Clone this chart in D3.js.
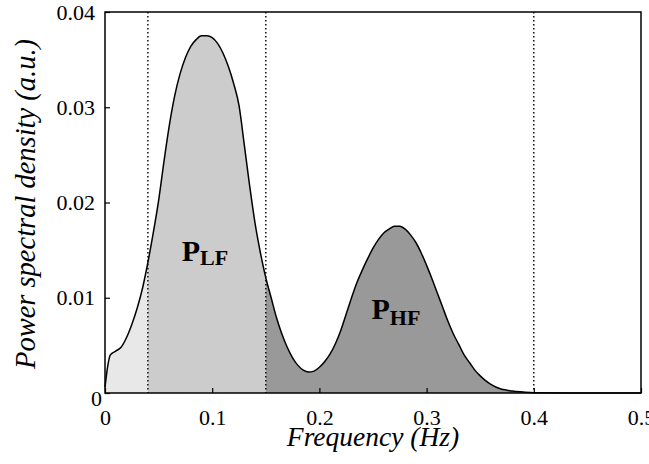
<!DOCTYPE html>
<html>
<head>
<meta charset="utf-8">
<script src="https://cdn.jsdelivr.net/npm/d3@7"></script>
<style>
  html, body { margin: 0; padding: 0; background: #fff; }
  svg { display: block; }
  text { font-family: "Liberation Serif", "Times New Roman", serif; fill: #000; }
</style>
</head>
<body>
<svg id="chart" width="649" height="464"></svg>
<script>
// ---- data ----
const freq = [0, 0.0025, 0.005, 0.01, 0.015, 0.02, 0.025, 0.03, 0.035, 0.04, 0.045,
  0.05, 0.055, 0.06, 0.065, 0.07, 0.075, 0.08, 0.085, 0.09, 0.095,
  0.1, 0.105, 0.11, 0.115, 0.12, 0.125, 0.13, 0.135, 0.14, 0.145,
  0.15, 0.155, 0.16, 0.165, 0.17, 0.175, 0.18, 0.185, 0.19, 0.195,
  0.2, 0.205, 0.21, 0.215, 0.22, 0.225, 0.23, 0.235, 0.24, 0.245,
  0.25, 0.255, 0.26, 0.265, 0.27, 0.275, 0.28, 0.285, 0.29, 0.295,
  0.3, 0.305, 0.31, 0.315, 0.32, 0.325, 0.33, 0.335, 0.34, 0.345,
  0.35, 0.355, 0.36, 0.365, 0.37, 0.375, 0.38, 0.39, 0.4, 0.45, 0.5];
const psd = [0.0006, 0.0028, 0.0040, 0.0044, 0.0048, 0.0058, 0.0072, 0.0089, 0.0110, 0.0137, 0.0168,
  0.0202, 0.0243, 0.0281, 0.0312, 0.0335, 0.0352, 0.0364, 0.0371, 0.0375, 0.0375,
  0.0373, 0.0367, 0.0357, 0.0343, 0.0325, 0.0302, 0.0260, 0.0217, 0.0178, 0.0147,
  0.0121, 0.0100, 0.0079, 0.0062, 0.0048, 0.0037, 0.0029, 0.0024, 0.0022, 0.0023,
  0.0027, 0.0033, 0.0041, 0.0052, 0.0066, 0.0083, 0.0100, 0.0116, 0.0129, 0.0141,
  0.0152, 0.0161, 0.0168, 0.0172, 0.0175, 0.0175, 0.0172, 0.0166, 0.0158, 0.0147,
  0.0134, 0.0120, 0.0105, 0.0090, 0.0075, 0.0062, 0.0051, 0.0040, 0.0032, 0.0024,
  0.0018, 0.0013, 0.0009, 0.0006, 0.0004, 0.0003, 0.0002, 0.0001, 0.00003, 0, 0];
const bandEdges = [0, 0.04, 0.15, 0.4];          // VLF | LF | HF
const bandColors = ["#e8e8e8", "#cccccc", "#999999"];
const dottedLines = [0.04, 0.15, 0.4];
const xTicks = [0, 0.1, 0.2, 0.3, 0.4, 0.5];
const yTicks = [0, 0.01, 0.02, 0.03, 0.04];
const bandLabels = [
  { f: 0.0715, v: 0.0139, main: "P", sub: "LF", subShift: 4 },
  { f: 0.2486, v: 0.0078, main: "P", sub: "HF", subShift: 6 }
];
const xTitle = "Frequency (Hz)";
const yTitle = "Power spectral density (a.u.)";

// ---- layout ----
const L = 105, R = 641, T = 12, B = 393;
const svg = d3.select("#chart");
const x = d3.scaleLinear().domain([0, 0.5]).range([L, R]);
const y = d3.scaleLinear().domain([0, 0.04]).range([B, T]);

const data = freq.map((f, i) => ({ f, v: psd[i] }));
const curve = d3.curveMonotoneX;

const defs = svg.append("defs");
for (let i = 0; i < 3; i++) {
  defs.append("clipPath").attr("id", "band" + i)
    .append("rect")
    .attr("x", x(bandEdges[i])).attr("y", T)
    .attr("width", x(bandEdges[i + 1]) - x(bandEdges[i]))
    .attr("height", B - T);
}

const area = d3.area().x(d => x(d.f)).y0(y(0)).y1(d => y(d.v)).curve(curve);
for (let i = 0; i < 3; i++) {
  svg.append("path").datum(data)
    .attr("d", area)
    .attr("fill", bandColors[i])
    .attr("clip-path", `url(#band${i})`);
}

// dotted band lines
svg.selectAll("line.band").data(dottedLines).enter().append("line")
  .attr("x1", d => x(d)).attr("x2", d => x(d))
  .attr("y1", T).attr("y2", B)
  .attr("stroke", "#000").attr("stroke-width", 1.4)
  .attr("stroke-dasharray", "1.5,2.5");

// curve
const line = d3.line().x(d => x(d.f)).y(d => y(d.v)).curve(curve);
svg.append("path").datum(data)
  .attr("d", line).attr("fill", "none")
  .attr("stroke", "#000").attr("stroke-width", 1.5);

// band labels
bandLabels.forEach(b => {
  const t = svg.append("text")
    .attr("x", x(b.f)).attr("y", y(b.v))
    .attr("font-weight", "bold");
  t.append("tspan").attr("font-size", 30).text(b.main);
  t.append("tspan").attr("font-size", 22).attr("dy", b.subShift).text(b.sub);
});

// axes
const xAxis = d3.axisBottom(x).tickValues(xTicks)
  .tickFormat(d => d === 0 ? "0" : d3.format(".1f")(d))
  .tickSizeInner(-5).tickSizeOuter(0).tickPadding(16);
const gx = svg.append("g").attr("transform", `translate(0,${B})`).call(xAxis);
gx.select(".domain").remove();
gx.selectAll("line").attr("stroke", "#000").attr("stroke-width", 1.2);
gx.selectAll("text").attr("font-size", 22).style("font-family", "Liberation Serif");

const yAxis = d3.axisLeft(y).tickValues(yTicks)
  .tickFormat(d => d === 0 ? "0" : d3.format(".2f")(d))
  .tickSizeInner(-5).tickSizeOuter(0).tickPadding(10);
const gy = svg.append("g").attr("transform", `translate(${L},0)`).call(yAxis);
gy.select(".domain").remove();
gy.selectAll("line").attr("stroke", "#000").attr("stroke-width", 1.2);
gy.selectAll("text").attr("font-size", 22).style("font-family", "Liberation Serif");
gy.selectAll(".tick").filter(d => d === 0).select("text")
  .attr("dx", 7).attr("dy", "0.55em");

// frame
svg.append("rect")
  .attr("x", L).attr("y", T).attr("width", R - L).attr("height", B - T)
  .attr("fill", "none").attr("stroke", "#000").attr("stroke-width", 1.5);

// titles
svg.append("text")
  .attr("x", (L + R) / 2).attr("y", 446)
  .attr("text-anchor", "middle")
  .attr("font-size", 27.5).attr("font-style", "italic")
  .text(xTitle);
svg.append("text")
  .attr("transform", `translate(35,204) rotate(-90)`)
  .attr("text-anchor", "middle")
  .attr("font-size", 28.5).attr("font-style", "italic")
  .text(yTitle);
</script>
</body>
</html>
